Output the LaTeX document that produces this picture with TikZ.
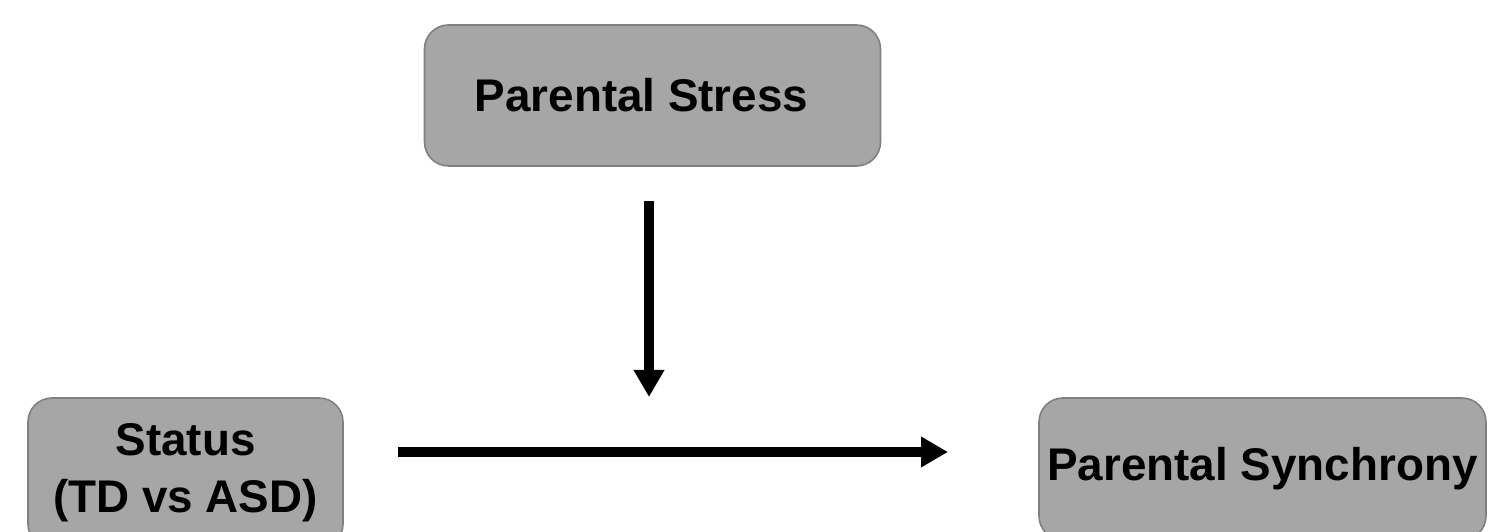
\documentclass[tikz,border=0pt]{standalone}
\usepackage{fontspec}
\setmainfont{Liberation Sans}
\usetikzlibrary{arrows.meta}
\definecolor{boxfill}{HTML}{A6A6A6}
\definecolor{boxline}{HTML}{808080}
\tikzset{
  varbox/.style={draw=boxline, fill=boxfill, line width=1.6pt, rounded corners=24pt,
    font=\fontsize{45.8}{57}\selectfont\bfseries, align=center, inner sep=0pt},
  bigarrow/.style={line width=10pt, -{Triangle[length=27pt,width=29pt]}}
}
\begin{document}
\begin{tikzpicture}[x=1pt,y=1pt]
\useasboundingbox (0,0) rectangle (1488,532);
\node[varbox, minimum width=456pt, minimum height=141pt] (stress) at (652.5,436.5) {\hspace*{-22pt}Parental Stress};
\node[varbox, minimum width=315pt, minimum height=150pt] (status) at (185.5,59) {Status\\(TD vs ASD)};
\node[varbox, minimum width=447pt, minimum height=142pt] (sync) at (1262.5,63) {Parental Synchrony};
\coordinate (vtop) at (649,331);
\coordinate (vtip) at (649,135);
\coordinate (hstart) at (398,80);
\coordinate (htip) at (948,80);
\draw[bigarrow] (vtop) -- (vtip);
\draw[bigarrow] (hstart) -- (htip);
\end{tikzpicture}
\end{document}
